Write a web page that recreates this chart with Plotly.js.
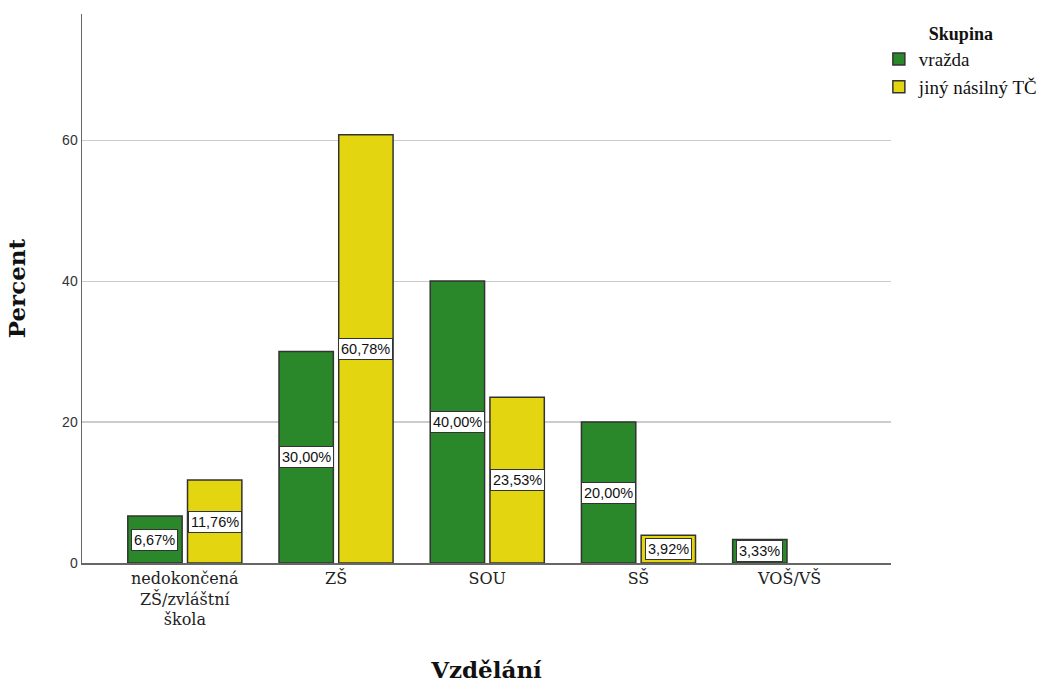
<!DOCTYPE html>
<html>
<head>
<meta charset="utf-8">
<script src="https://cdn.plot.ly/plotly-3.0.1.min.js"></script>
<style>html,body{margin:0;padding:0;background:#fff;}#chart{width:1047px;height:683px;}</style>
</head>
<body>
<div id="chart"></div>
<script>
var categories = ['nedokončená<br>ZŠ/zvláštní<br>škola', 'ZŠ', 'SOU', 'SŠ', 'VOŠ/VŠ'];
var seriesNames = ['vražda', 'jiný násilný TČ'];
var vrazda = [6.67, 30.00, 40.00, 20.00, 3.33];
var jiny = [11.76, 60.78, 23.53, 3.92, null];
var yTicks = [0, 20, 40, 60];

var bargap = 0.21;
var colors = ['#2a882a', '#e3d611'];
var serif = "'DejaVu Serif', serif";
var tserif = "'Liberation Serif', serif";

var traces = [vrazda, jiny].map(function (vals, k) {
  return {
    type: 'bar', name: seriesNames[k], x: categories, y: vals,
    marker: {color: colors[k], line: {color: '#333333', width: 1.5}},
    hoverinfo: 'skip'
  };
});

var annotations = [];
var off = (1 - bargap) / 4;
[vrazda, jiny].forEach(function (vals, k) {
  vals.forEach(function (v, i) {
    if (v === null) return;
    annotations.push({
      x: i + (k === 0 ? -off : off), y: v / 2, xref: 'x', yref: 'y',
      text: v.toFixed(2).replace('.', ',') + '%', showarrow: false,
      font: {family: "'Liberation Sans', Arial, sans-serif", size: 14.5, color: '#111'},
      bgcolor: '#ffffff', bordercolor: '#333333', borderwidth: 1, borderpad: 2
    });
  });
});

var layout = {
  width: 1047, height: 683,
  margin: {l: 82, r: 156, t: 14, b: 120, autoexpand: false},
  paper_bgcolor: '#ffffff', plot_bgcolor: '#ffffff',
  barmode: 'group', bargap: bargap, bargroupgap: 0.09,
  showlegend: true,
  legend: {
    x: 0.985, y: 0.995, xanchor: 'left', yanchor: 'top',
    title: {text: '<b>Skupina</b>', side: 'top center', font: {family: tserif, size: 18, color: '#111'}},
    font: {family: tserif, size: 19, color: '#111'},
    tracegroupgap: 0, itemwidth: 30
  },
  xaxis: {
    type: 'category', range: [-0.68, 4.67],
    showline: true, linecolor: '#666666', linewidth: 1.5,
    showgrid: false, ticks: '', zeroline: false,
    tickfont: {family: serif, size: 16, color: '#222'},
    title: {text: '<b>Vzdělání</b>', font: {family: serif, size: 23, color: '#111'}, standoff: 34}
  },
  yaxis: {
    range: [0, 77.9], tickvals: yTicks, ticktext: yTicks.map(String),
    showline: true, linecolor: '#666666', linewidth: 1.5,
    showgrid: true, gridcolor: '#cccccc', gridwidth: 1.2,
    zeroline: false, ticks: '',
    tickfont: {family: "'Liberation Sans', Arial, sans-serif", size: 14, color: '#333'},
    title: {text: '<b>Percent</b>', font: {family: serif, size: 23, color: '#111'}, standoff: 30}
  },
  annotations: annotations
};

Plotly.newPlot('chart', traces, layout, {displayModeBar: false, staticPlot: true});
</script>
</body>
</html>
